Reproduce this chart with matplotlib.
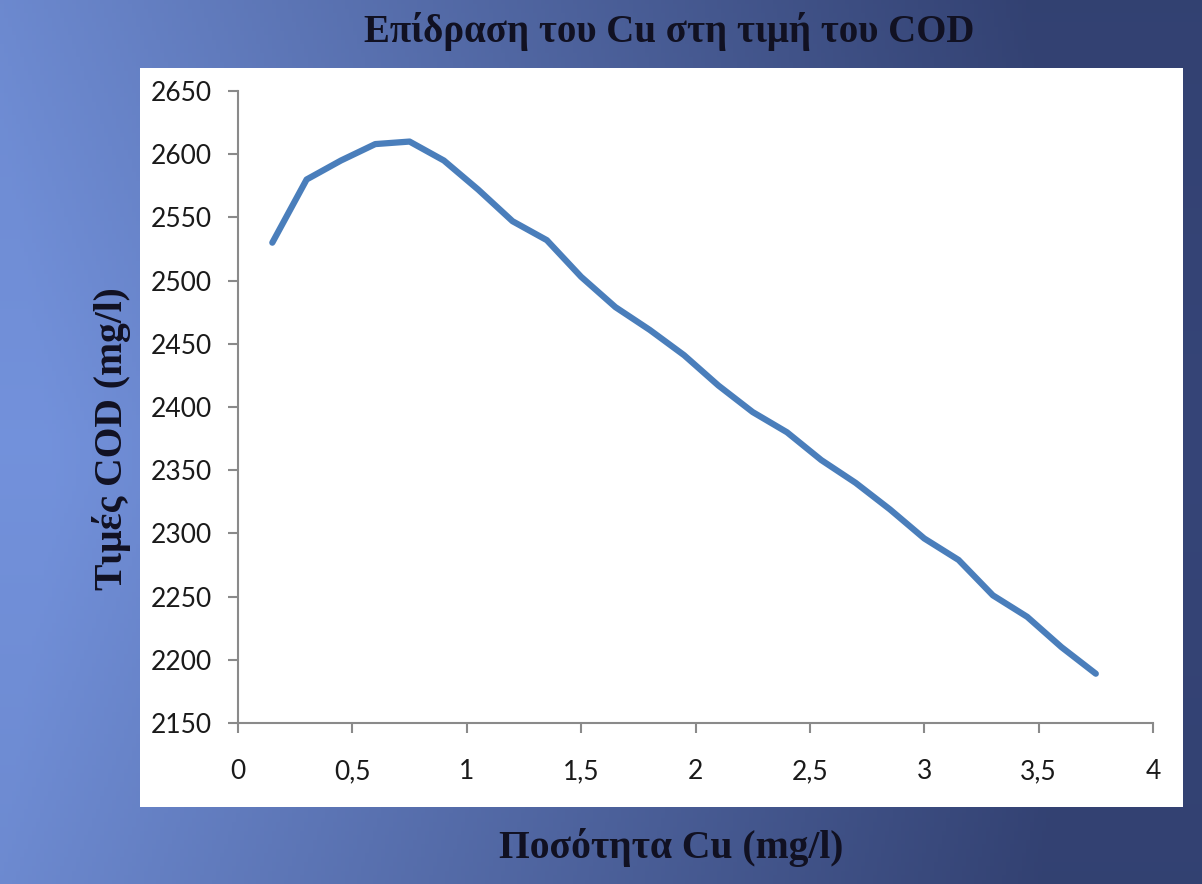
import numpy as np
import matplotlib.pyplot as plt
from matplotlib.patches import Rectangle
from matplotlib.ticker import FuncFormatter

# ποσότητα Cu (mg/l) και αντίστοιχες τιμές COD (mg/l)
cu = [0.15, 0.30, 0.45, 0.60, 0.75, 0.90, 1.05, 1.20, 1.35, 1.50, 1.65, 1.80, 1.95,
      2.10, 2.25, 2.40, 2.55, 2.70, 2.85, 3.00, 3.15, 3.30, 3.45, 3.60, 3.75]
cod = [2530, 2580, 2595, 2608, 2610, 2595, 2572, 2547, 2532, 2503, 2479, 2461, 2441,
       2417, 2396, 2380, 2358, 2340, 2319, 2296, 2279, 2251, 2234, 2210, 2189]

x_ticks = [0, 0.5, 1, 1.5, 2, 2.5, 3, 3.5, 4]
y_ticks = [2150, 2200, 2250, 2300, 2350, 2400, 2450, 2500, 2550, 2600, 2650]

fig = plt.figure(figsize=(12.02, 8.84), dpi=100)

# φόντο με μπλε διαβάθμιση
bg = fig.add_axes([0, 0, 1, 1])
h, w = 200, 300
xx = np.linspace(0, 1, w)[None, :]
yy = np.linspace(0, 1, h)[:, None]
left = np.array([0.45, 0.57, 0.86])
right = np.array([0.21, 0.27, 0.47])
t = np.clip(xx * 1.15 - 0.05 + 0.12 * np.abs(yy - 0.55), 0, 1)
img = left[None, None, :] * (1 - t[..., None]) + right[None, None, :] * t[..., None]
img = img * (1 - 0.10 * np.abs(yy - 0.5)[..., None])
bg.imshow(img, extent=[0, 1, 0, 1], aspect='auto', origin='upper')
bg.add_patch(Rectangle((140 / 1202, 1 - 807 / 884), (1183 - 140) / 1202, (807 - 68) / 884,
                       transform=bg.transAxes, facecolor='white', edgecolor='none'))
bg.set_xlim(0, 1)
bg.set_ylim(0, 1)
bg.axis('off')

ax = fig.add_axes([238 / 1202, 1 - 723 / 884, 915 / 1202, 632 / 884])
ax.patch.set_alpha(0)
ax.plot(cu, cod, color='#4a7ebb', linewidth=4.5, solid_capstyle='round', solid_joinstyle='round')

ax.set_xlim(0, 4)
ax.set_ylim(2150, 2650)
ax.set_xticks(x_ticks)
ax.set_yticks(y_ticks)
ax.xaxis.set_major_formatter(FuncFormatter(lambda v, p: f'{v:g}'.replace('.', ',')))

for s in ['top', 'right']:
    ax.spines[s].set_visible(False)
for s in ['left', 'bottom']:
    ax.spines[s].set_color('#8a8a8a')
    ax.spines[s].set_linewidth(1.5)

ax.tick_params(direction='out', length=7, width=1.5, color='#8a8a8a',
               labelsize=19, labelcolor='#1a1a1a')
ax.tick_params(axis='y', pad=12)
ax.tick_params(axis='x', pad=19)
for lbl in ax.get_xticklabels() + ax.get_yticklabels():
    lbl.set_family('Lato')

serif = dict(family='Liberation Serif', fontweight='bold', color='#111122')
fig.text(0.557, 0.964, 'Επίδραση του Cu στη τιμή του COD', ha='center', va='center',
         fontsize=28, **serif)
fig.text(0.558, 0.041, 'Ποσότητα Cu (mg/l)', ha='center', va='center', fontsize=28.5, **serif)
fig.text(0.093, 0.504, 'Τιμές COD (mg/l)', ha='center', va='center', rotation=90,
         fontsize=28.5, **serif)

fig.savefig('out.png', dpi=100)
